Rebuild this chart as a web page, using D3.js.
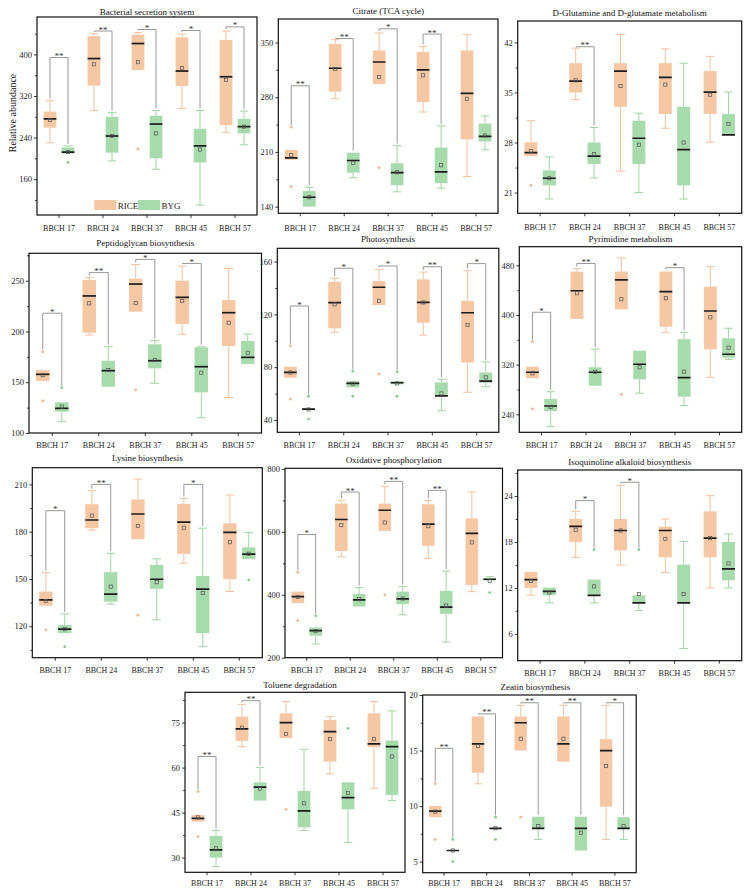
<!DOCTYPE html>
<html><head><meta charset="utf-8">
<script src="https://cdn.jsdelivr.net/npm/d3@7"></script>
<style>html,body{margin:0;padding:0;background:#fff;}svg{display:block;font-family:"Liberation Serif","Times New Roman",serif;}</style>
</head><body><div id="chart"></div>
<script>
// ---------- data ----------
const categories = ["BBCH 17","BBCH 24","BBCH 37","BBCH 45","BBCH 57"];
const groups = ["RICE","BYG"];
// each row: [whiskerLow, q1, median, q3, whiskerHigh, mean]
const bacRice = [[230,259,276,290,311,274],[292,340,392,435,440,381],[370,370,421,438,442,385],[296,339,368,433,439,374],[250,264,357,428,445,351]];
const bacByg  = [[209,209,212,221,224,212],[195,211,243,280,288,243],[179,200,266,282,292,248],[110,192,224,257,292,217],[226,248,261,276,291,261]];
const bacOutRice = [[],[],[218],[],[]];
const bacOutByg  = [[192],[],[],[],[]];
const bacSig = [["BBCH 17",394,"**"],["BBCH 24",445,"**"],["BBCH 37",448,"*"],["BBCH 45",446,"*"],["BBCH 57",453,"*"]];
const bacTicks = [160,240,320,400];

const citRice = [[200,200,202.4,212.6,212.6,205.8],[278,287,317,348,353.5,316],[296.7,296.7,325,339.8,362,305.7],[261,273.7,315,337.7,345,308],[178.5,226,285,339.8,360,278]];
const citByg  = [[140,140,152,160,164.8,152],[177,183.5,199,209,209,196],[159,167.4,183.5,195.6,218,184],[163.6,170,184.4,215.6,243.3,193],[212.6,223.3,230,246.3,256,231]];
const citOutRice = [[241.7,165.6],[],[190],[],[]];
const citOutByg  = [[],[],[],[],[]];
const citSig = [["BBCH 17",294.6,"**"],["BBCH 24",355,"**"],["BBCH 37",367.5,"*"],["BBCH 45",360.7,"**"]];
const citTicks = [140,210,280,350];

const gluRice = [[26.1,26.1,26.6,28.04,31.05,26.8],[34.0,35.0,36.6,39.1,41.2,36.7],[24.0,33.0,38.0,39.1,43.1,35.9],[30.0,32.0,37.1,39.1,41.1,36.1],[28.04,32.0,35.06,38.0,40.05,34.7]];
const gluByg  = [[20.1,22.0,23.0,24.1,26.0,23.0],[23.05,25.0,26.1,28.0,30.1,26.4],[21.0,25.0,28.6,31.05,32.1,27.7],[20.1,22.0,27.0,33.0,39.1,28.0],[29.06,29.06,29.06,32.0,35.06,30.6]];
const gluOutRice = [[22.0],[],[],[],[]];
const gluOutByg  = [[],[],[],[],[]];
const gluSig = [["BBCH 24",41.4,"**"]];
const gluTicks = [21,28,35,42];

const pepRice = [[151.2,151.2,157.8,162,162,157],[196.5,198.8,235,250.7,253,227.7],[219.5,219.5,246.7,252,266,228],[197.2,207.4,233.6,250,264.5,230],[135,185.7,218.5,231,262,208.6]];
const pepByg  = [[111.1,121,124.3,130.2,130.2,126],[145.6,145.6,161.4,171.2,185,162],[149,163.7,171.2,187.4,191,172],[115,140,165.3,184.4,185,159.4],[168,168,174.5,190.6,197.5,179]];
const pepOutRice = [[180,131.5],[],[142.5],[],[]];
const pepOutByg  = [[144.6],[],[],[],[]];
const pepSig = [["BBCH 17",218,"*"],["BBCH 24",258,"**"],["BBCH 37",271,"*"],["BBCH 45",267,"*"]];
const pepTicks = [100,150,200,250];

const phoRice = [[72,72,76,80.3,80.3,76],[106.4,109.4,128.8,144.7,147.3,127.6],[127,127,140.5,145.2,154,130.3],[104.3,113.6,129,146.5,152,129],[61,83.6,121.2,130.3,153,112]];
const phoByg  = [[47.5,47.5,48.3,49,49,48],[64.7,64.7,67.7,69.5,69.5,67.5],[67,67,68.2,69.5,69.5,67.7],[47,58.3,58.3,68.5,70.8,60.1],[65.2,68.2,69.5,76,84,72.3]];
const phoOutRice = [[96.2,55.8],[],[74.8],[],[]];
const phoOutByg  = [[58,40.7],[77,58],[76.5,58],[],[]];
const phoSig = [["BBCH 17",126.3,"*"],["BBCH 24",154.9,"*"],["BBCH 37",156.6,"*"],["BBCH 45",156,"**"],["BBCH 57",158.4,"*"]];
const phoTicks = [40,80,120,160];

const pyrRice = [[298,298,307.7,316.7,316.7,306],[393.6,393.6,439,469.8,475,435],[409,409,456.4,470,492,425.3],[372,381,437.5,470,470,427],[299.6,344.7,406.4,445.6,477.8,396.3]];
const pyrByg  = [[220,245.3,253.4,264.7,276.4,252],[286,286,307.7,315.7,345,308.5],[274,296.4,320.6,342.5,342.5,315.7],[254,268.4,299,361,372,308.7],[328.6,331.2,336.7,362.5,378.6,347.3]];
const pyrOutRice = [[357,248.5],[],[272],[],[]];
const pyrOutByg  = [[],[],[],[],[]];
const pyrSig = [["BBCH 17",404.4,"*"],["BBCH 24",483,"**"],["BBCH 45",476.2,"*"]];
const pyrTicks = [240,320,400,480];

const lysRice = [[133,133,136.7,142,154,136],[181,182.2,187.4,197.4,206,190.2],[175.2,175.2,191.2,200.5,213.4,183.6],[160,165.9,186,197.6,201,182.5],[142,149.8,179.6,185.3,203.3,173.3]];
const lysByg  = [[115.6,115.6,118.1,120.8,127.8,118.1],[134,135.6,140.3,154.3,166.3,145.1],[124,143.7,149.8,158.9,162.7,147.9],[107,115.6,143.5,151.9,182.2,141],[162.7,162.7,165.7,170.1,179.4,166]];
const lysOutRice = [[117.7],[],[127],[],[]];
const lysOutByg  = [[107],[],[],[],[149.4]];
const lysSig = [["BBCH 17",193.3,"*"],["BBCH 24",210,"**"],["BBCH 45",210,"*"]];
const lysTicks = [120,150,180,210];

const oxiRice = [[373.4,373.4,394.3,410,410,393],[520.9,538.9,639.2,689.9,700.3,621.2],[603.2,603.2,668.7,689.9,744.6,629.7],[515.8,555.7,624.4,687.7,700.3,618],[410,431.3,595,642.4,726.6,566.5]];
const oxiByg  = [[243.7,270,285.8,296.2,296.2,285],[362.7,362.7,383.9,402.8,422.8,386],[336.4,370.2,387,410,426,388],[250,339.5,360.7,412.4,475.6,365.8],[444.9,444.9,449.4,452.5,457.6,444]];
const oxiOutRice = [[471.5,317.4],[],[399.7],[],[]];
const oxiOutByg  = [[333.2],[],[],[],[407]];
const oxiSig = [["BBCH 17",591.7,"*"],["BBCH 24",726.6,"**"],["BBCH 37",760.4,"**"],["BBCH 45",732,"**"]];
const oxiTicks = [200,400,600,800];

const isoRice = [[11.04,12.0,13.09,14.1,14.1,12.9],[16,18,20.04,21,22,19.6],[15,16.9,19.5,21,25.4,19.5],[14,16,19.5,20,21,18.4],[12,16,18.5,22,24.04,18.5]];
const isoByg  = [[10.05,11.04,11.56,12.04,12.04,11.4],[10.05,11.04,11.04,13.1,13.1,12.2],[9.05,10.05,10.05,11.04,11.04,11.2],[4.1,10.05,10.05,15.04,18.08,11.2],[12,13,14.5,18,19.05,15.2]];
const isoOutRice = [[],[],[],[],[]];
const isoOutByg  = [[],[17],[17],[],[]];
const isoSig = [["BBCH 24",23.4,"*"],["BBCH 37",25.8,"*"]];
const isoTicks = [6,12,18,24];

const tolRice = [[42,42,43.1,44.2,44.2,43.4],[67,68.9,72.9,77,81.1,73.3],[69.8,69.8,75,78.1,82,71.2],[57.9,62,72,75.9,77,69.5],[53.1,66.8,67.9,78.1,82,69.5]];
const tolByg  = [[27,30,32.6,37.2,39,33.1],[49,49,53.5,55.1,60,53],[39,40.1,45.6,52.2,66.1,48.1],[35.1,46.1,50,55.1,55.1,51.5],[49,50.9,67,69,78.9,63.7]];
const tolOutRice = [[52,37],[],[46.1],[],[]];
const tolOutByg  = [[],[],[],[73.1],[]];
const tolSig = [["BBCH 17",63.7,"**"],["BBCH 24",82.3,"**"]];
const tolTicks = [30,45,60,75];

const zeaRice = [[9.0,9.0,9.55,10,10,9.5],[12,13,15.6,18.07,18.07,15.4],[15,15,17.5,18.07,19.07,16.06],[14,14,15.6,18.07,19.07,16.06],[7,9.94,15,16.03,19.07,13.6]];
const zeaByg  = [[6,6,6,6,6,6],[8,8,8,8,8,8],[7,8,8,9.04,9.04,8.2],[6,6,8,9.04,9.04,7.6],[7,8,8,9,9,8.2]];
const zeaOutRice = [[12,7],[],[9],[],[]];
const zeaOutByg  = [[7,5],[9,7],[],[],[]];
const zeaSig = [["BBCH 17",15.2,"**"],["BBCH 24",18.3,"**"],["BBCH 37",19.3,"**"],["BBCH 45",19.3,"**"],["BBCH 57",19.3,"*"]];
const zeaTicks = [5,10,15,20];

// ---------- layout ----------
const panels = [
 {title:"Bacterial secretion system", rice:bacRice, byg:bacByg, oR:bacOutRice, oB:bacOutByg, sig:bacSig, ticks:bacTicks, minor:[120,200,280,360,440], dom:[91,472], x0:37, x1:257, y0:17, y1:215, ty:15, ly:231, ylab:true, legend:true},
 {title:"Citrate (TCA cycle)", rice:citRice, byg:citByg, oR:citOutRice, oB:citOutByg, sig:citSig, ticks:citTicks, minor:[175,245,315], dom:[131.5,380], x0:278.3, x1:498, y0:19, y1:213.3, ty:14, ly:230.5},
 {title:"D-Glutamine and D-glutamate metabolism", rice:gluRice, byg:gluByg, oR:gluOutRice, oB:gluOutByg, sig:gluSig, ticks:gluTicks, minor:[24.5,31.5,38.5], dom:[18.1,45], x0:517.7, x1:741.7, y0:21, y1:213.3, ty:15.5, ly:229.5},
 {title:"Peptidoglycan biosynthesis", rice:pepRice, byg:pepByg, oR:pepOutRice, oB:pepOutByg, sig:pepSig, ticks:pepTicks, minor:[125,175,225,275], dom:[100,277], x0:29, x1:261.5, y0:253.3, y1:433, ty:246, ly:448},
 {title:"Photosynthesis", rice:phoRice, byg:phoByg, oR:phoOutRice, oB:phoOutByg, sig:phoSig, ticks:phoTicks, minor:[60,100,140], dom:[30.7,170], x0:277.3, x1:498.8, y0:248.3, y1:432.3, ty:242.3, ly:448},
 {title:"Pyrimidine metabolism", rice:pyrRice, byg:pyrByg, oR:pyrOutRice, oB:pyrOutByg, sig:pyrSig, ticks:pyrTicks, minor:[280,360,440], dom:[211,510], x0:519.3, x1:741.7, y0:246.7, y1:432.3, ty:242.3, ly:448},
 {title:"Lysine biosynthesis", rice:lysRice, byg:lysByg, oR:lysOutRice, oB:lysOutByg, sig:lysSig, ticks:lysTicks, minor:[105,135,165,195], dom:[100,220.6], x0:32.3, x1:262.3, y0:467.7, y1:657.7, ty:460.7, ly:673},
 {title:"Oxidative phosphorylation", rice:oxiRice, byg:oxiByg, oR:oxiOutRice, oB:oxiOutByg, sig:oxiSig, ticks:oxiTicks, minor:[300,500,700], dom:[200,802], x0:285, x1:502.5, y0:468.3, y1:657.7, ty:463, ly:673.3},
 {title:"Isoquinoline alkaloid biosynthesis", rice:isoRice, byg:isoByg, oR:isoOutRice, oB:isoOutByg, sig:isoSig, ticks:isoTicks, minor:[9,15,21,27], dom:[2.5,27.4], x0:517.7, x1:741.7, y0:470, y1:660.7, ty:465.3, ly:675.7},
 {title:"Toluene degradation", rice:tolRice, byg:tolByg, oR:tolOutRice, oB:tolOutByg, sig:tolSig, ticks:tolTicks, minor:[37.5,52.5,67.5,82.5], dom:[25.1,85.1], x0:185, x1:405, y0:692.3, y1:872.3, ty:688, ly:886.3, tdx:5},
 {title:"Zeatin biosynthesis", rice:zeaRice, byg:zeaByg, oR:zeaOutRice, oB:zeaOutByg, sig:zeaSig, ticks:zeaTicks, minor:[7.5,12.5,17.5], dom:[4,20], x0:422.7, x1:636.2, y0:695, y1:872.7, ty:690, ly:886.3, tdx:6}
];

const col = {RICE:{fill:"#f6c7a3", line:"#f5c09a", dot:"#f3b68a"}, BYG:{fill:"#a8dbab", line:"#9dd6a0", dot:"#86cc8a"}};
const FONT = "'Liberation Serif','Times New Roman',serif";

const svg = d3.select("#chart").append("svg").attr("width",754).attr("height",895).attr("font-family",FONT);

function drawPanel(p){
  const x = d3.scaleBand().domain(categories).range([p.x0,p.x1]);
  const y = d3.scaleLinear().domain(p.dom).range([p.y1,p.y0]);
  const bw = x.bandwidth(), boxW = bw*0.29, off = bw*0.205, capW = bw*0.19;
  const g = svg.append("g");
  const clipId = "clip"+Math.round(p.x0)+"_"+Math.round(p.y0);
  g.append("clipPath").attr("id",clipId).append("rect").attr("x",p.x0).attr("y",p.y0).attr("width",p.x1-p.x0).attr("height",p.y1-p.y0);
  const plot = g.append("g").attr("clip-path",`url(#${clipId})`);

  // axes
  const ya = g.append("g").attr("transform",`translate(${p.x0},0)`)
    .call(d3.axisLeft(y).tickValues(p.ticks).tickSize(3).tickPadding(2).tickFormat(d3.format("d")))
    .attr("font-family",FONT);
  ya.select(".domain").remove();
  ya.selectAll("text").attr("font-size",8.5).attr("fill","#222");
  const ym = g.append("g").attr("transform",`translate(${p.x0},0)`)
    .call(d3.axisLeft(y).tickValues(p.minor.filter(v=>v>=p.dom[0]&&v<=p.dom[1])).tickSize(2).tickFormat(""));
  ym.select(".domain").remove();
  const xa = g.append("g").attr("transform",`translate(0,${p.y1})`)
    .call(d3.axisBottom(x).tickSize(3).tickPadding(3));
  xa.select(".domain").remove();
  xa.selectAll("text").remove();
  g.selectAll("line").attr("stroke","#222").attr("stroke-width",0.9);
  categories.forEach(c=>{
    g.append("text").attr("x",x(c)+bw/2).attr("y",p.ly).attr("text-anchor","middle")
      .attr("font-size",8).attr("fill","#222").text(c);
  });

  // boxes
  groups.forEach((grp,gi)=>{
    const stats = gi===0 ? p.rice : p.byg;
    const outs = gi===0 ? p.oR : p.oB;
    const cc = col[grp];
    stats.forEach((s,i)=>{
      const cx = x(categories[i]) + bw/2 + (gi===0?-off:off);
      const [lo,q1,md,q3,hi,mn] = s;
      plot.append("line").attr("x1",cx).attr("x2",cx).attr("y1",y(hi)).attr("y2",y(q3)).attr("stroke",cc.line).attr("stroke-width",1);
      plot.append("line").attr("x1",cx).attr("x2",cx).attr("y1",y(q1)).attr("y2",y(lo)).attr("stroke",cc.line).attr("stroke-width",1);
      if(hi>q3) plot.append("line").attr("x1",cx-capW/2).attr("x2",cx+capW/2).attr("y1",y(hi)).attr("y2",y(hi)).attr("stroke",cc.line).attr("stroke-width",1);
      if(lo<q1) plot.append("line").attr("x1",cx-capW/2).attr("x2",cx+capW/2).attr("y1",y(lo)).attr("y2",y(lo)).attr("stroke",cc.line).attr("stroke-width",1);
      plot.append("rect").attr("x",cx-boxW/2).attr("y",y(q3)).attr("width",boxW).attr("height",Math.max(0,y(q1)-y(q3))).attr("fill",cc.fill);
      plot.append("line").attr("x1",cx-boxW/2).attr("x2",cx+boxW/2).attr("y1",y(md)).attr("y2",y(md)).attr("stroke","#1c1c1c").attr("stroke-width",1.7);
      plot.append("rect").attr("x",cx-1.6).attr("y",y(mn)-1.6).attr("width",3.2).attr("height",3.2).attr("fill","none").attr("stroke","#555").attr("stroke-width",0.7);
      outs[i].forEach(v=>{
        plot.append("circle").attr("cx",cx).attr("cy",y(v)).attr("r",1.4).attr("fill",cc.dot);
      });
    });
  });

  // significance brackets
  p.sig.forEach(([c,v,s])=>{
    const i = categories.indexOf(c);
    const xl = x(c)+bw/2-off, xr = x(c)+bw/2+off;
    const topR = Math.max(p.rice[i][4], ...p.oR[i]);
    const topB = Math.max(p.byg[i][4], ...p.oB[i]);
    const yb = y(v);
    const path = `M${xl},${Math.max(yb,y(topR)-2)}V${yb}H${xr}V${Math.max(yb,y(topB)-2)}`;
    g.append("path").attr("d",path).attr("fill","none").attr("stroke","#8c8c8c").attr("stroke-width",0.9);
    g.append("text").attr("x",(xl+xr)/2).attr("y",yb+1.5).attr("text-anchor","middle")
      .attr("font-size",9).attr("fill","#333").text(s);
  });

  // frame
  g.append("rect").attr("x",p.x0).attr("y",p.y0).attr("width",p.x1-p.x0).attr("height",p.y1-p.y0)
    .attr("fill","none").attr("stroke","#111").attr("stroke-width",1.2);

  // title
  g.append("text").attr("x",(p.x0+p.x1)/2+(p.tdx||0)).attr("y",p.ty).attr("text-anchor","middle")
    .attr("font-size",9).attr("fill","#111").text(p.title);

  if(p.ylab){
    g.append("text").attr("transform",`translate(16,${(p.y0+p.y1)/2 - 3}) rotate(-90)`).attr("text-anchor","middle")
      .attr("font-size",10).attr("fill","#111").text("Relative abundance");
  }
  if(p.legend){
    const lg = g.append("g");
    const items = [{k:"RICE",x:94.3},{k:"BYG",x:138}];
    items.forEach(it=>{
      lg.append("rect").attr("x",it.x).attr("y",200).attr("width",22).attr("height",10).attr("fill",col[it.k].fill);
      lg.append("text").attr("x",it.x+23.5).attr("y",208.5).attr("font-size",9).attr("fill","#222").text(it.k);
    });
  }
}
panels.forEach(drawPanel);
</script>
</body></html>
